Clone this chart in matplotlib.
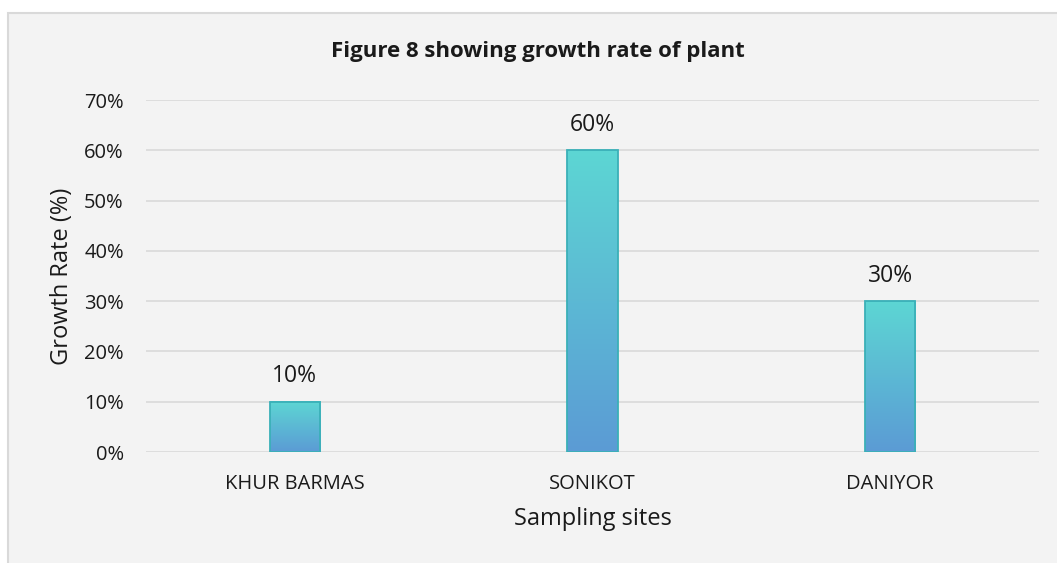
import matplotlib

matplotlib.use("Agg")
import matplotlib.pyplot as plt  # noqa: E402
import numpy as np  # noqa: E402
from matplotlib.colors import LinearSegmentedColormap  # noqa: E402
from matplotlib.patches import Rectangle  # noqa: E402
from matplotlib.ticker import FuncFormatter, MultipleLocator  # noqa: E402

sites = ["KHUR BARMAS", "SONIKOT", "DANIYOR"]
growth = [0.10, 0.60, 0.30]
title = "Figure 8 showing growth rate of plant"
xlabel = "Sampling sites"
ylabel = "Growth Rate (%)"

plt.rcParams["font.family"] = ["Open Sans", "DejaVu Sans"]

BG = "#f3f3f3"
GRID = "#d9d9d9"
TEXT = "#1a1a1a"
cmap = LinearSegmentedColormap.from_list("bar", ["#5b9bd5", "#5dd6d3"])

fig = plt.figure(figsize=(10.57, 5.63), dpi=100)
fig.patch.set_facecolor("white")
# chart area box
fig.patches.append(Rectangle((8 / 1057, -0.05), 1.1, 1 - 13 / 563 + 0.05,
                             transform=fig.transFigure, facecolor=BG,
                             edgecolor=GRID, linewidth=1.5, zorder=-10))

ax = fig.add_axes([146 / 1057, 1 - 452 / 563, (1039 - 146) / 1057, (452 - 100) / 563])
ax.set_facecolor("none")

x = np.arange(len(sites))
width = 0.17
grad = np.linspace(0, 1, 256).reshape(-1, 1)
for xi, v in zip(x, growth):
    ax.imshow(grad, cmap=cmap, origin="lower", aspect="auto",
              extent=[xi - width / 2, xi + width / 2, 0, v], zorder=2)
    ax.bar(xi, v, width=width, facecolor="none", edgecolor="#3ab0b8",
           linewidth=1.3, zorder=3)
    ax.annotate(f"{v:.0%}", (xi, v), xytext=(0, 14), textcoords="offset points",
                ha="center", va="baseline", fontsize=16.5, color=TEXT)

ax.set_xlim(-0.5, len(sites) - 0.5)
ax.set_ylim(0, 0.7)
ax.yaxis.set_major_locator(MultipleLocator(0.1))
ax.yaxis.set_major_formatter(FuncFormatter(lambda v, _: f"{v:.0%}"))
ax.set_xticks(x)
ax.set_xticklabels(sites)
ax.grid(axis="y", color=GRID, linewidth=1.2, zorder=0)
ax.set_axisbelow(True)
for s in ax.spines.values():
    s.set_visible(False)
ax.tick_params(axis="both", length=0, colors=TEXT)
ax.tick_params(axis="y", labelsize=14.5, pad=16)
ax.tick_params(axis="x", labelsize=14.5, pad=16)

ax.set_xlabel(xlabel, fontsize=17, color=TEXT, va="top")
ax.set_ylabel(ylabel, fontsize=17, color=TEXT)
ax.xaxis.set_label_coords(0.5, (452 - 507) / 352)
ax.yaxis.set_label_coords((74 - 146) / 893, 0.5)
fig.text(538 / 1057, 1 - 51 / 563, title, ha="center", va="center",
         fontsize=16, fontweight="bold", color=TEXT)

fig.savefig("out.png", dpi=100)
